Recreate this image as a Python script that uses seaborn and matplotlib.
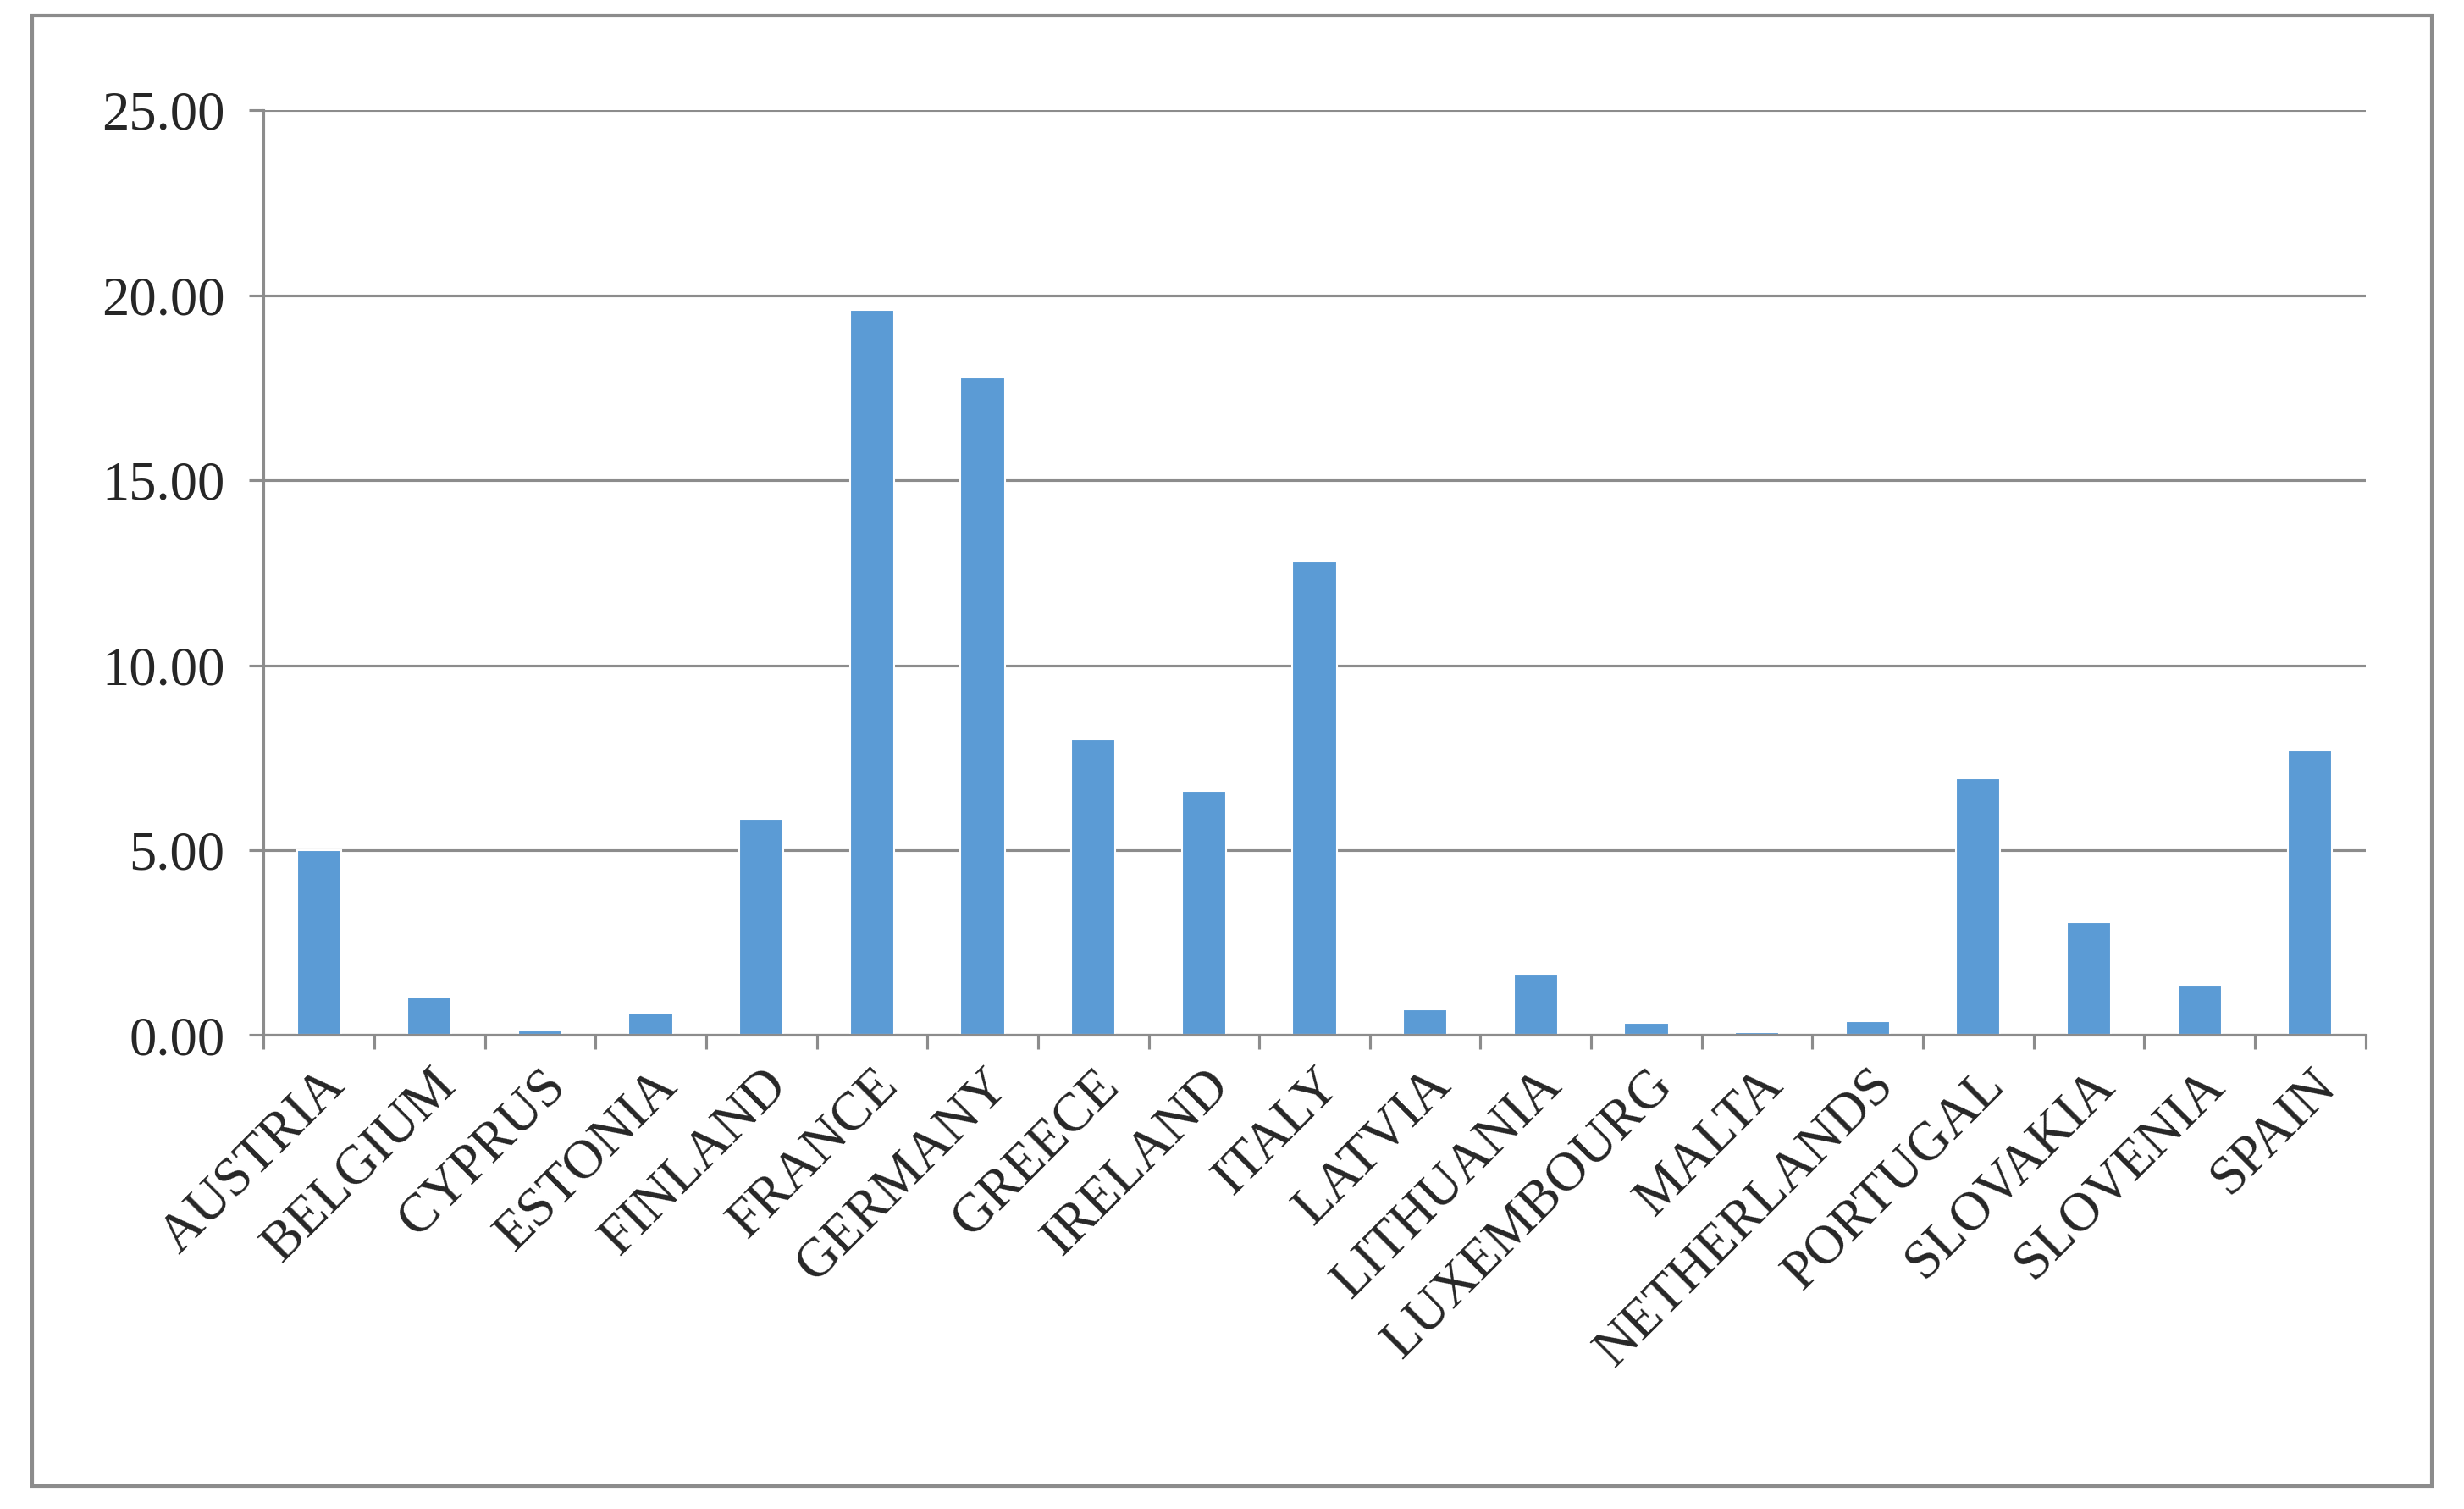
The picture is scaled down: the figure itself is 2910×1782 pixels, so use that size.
import matplotlib
matplotlib.use("Agg")
import matplotlib.pyplot as plt
import seaborn as sns
import numpy as np
import pandas as pd
from matplotlib.patches import Rectangle

countries = ["AUSTRIA", "BELGIUM", "CYPRUS", "ESTONIA", "FINLAND", "FRANCE", "GERMANY",
             "GREECE", "IRELAND", "ITALY", "LATVIA", "LITHUANIA", "LUXEMBOURG", "MALTA",
             "NETHERLANDS", "PORTUGAL", "SLOVAKIA", "SLOVENIA", "SPAIN"]
values = [5.0, 1.05, 0.12, 0.6, 5.85, 19.6, 17.8, 8.0, 6.6, 12.8, 0.7, 1.65, 0.33, 0.08,
          0.38, 6.95, 3.05, 1.35, 7.7]
y_ticks = [0, 5, 10, 15, 20, 25]

sns.set_theme(style="white")
plt.rcParams["font.family"] = ["Liberation Serif", "DejaVu Serif"]

fig = plt.figure(figsize=(19.4, 11.88), dpi=150)
ax = fig.add_axes([0.107, 0.314, 0.853, 0.613])
df = pd.DataFrame({"country": countries, "value": values})
sns.barplot(data=df, x="country", y="value", color="#5B9BD5", saturation=1, width=0.4, ax=ax)

ax.set_ylim(0, 25)
ax.set_xlim(-0.5, len(countries) - 0.5)
ax.set_yticks(y_ticks)
ax.set_yticklabels([f"{v:.2f}" for v in y_ticks], fontsize=31)
ax.yaxis.grid(True, color="#8c8c8c", linewidth=1.5)
ax.set_axisbelow(True)
ax.set_xlabel("")
ax.set_ylabel("")
ax.set_xticks(range(len(countries)))
ax.set_xticklabels(countries, rotation=45, ha="right", rotation_mode="anchor", fontsize=31)
ax.set_xticks(np.arange(-0.5, len(countries), 1), minor=True)
ax.tick_params(axis="x", which="major", length=0, pad=14)
ax.tick_params(axis="x", which="minor", length=8, width=1.5, color="#8c8c8c", bottom=True)
ax.tick_params(axis="y", length=8, width=1.5, color="#8c8c8c", left=True, pad=14)
for s in ["top", "right"]:
    ax.spines[s].set_visible(False)
for s in ["left", "bottom"]:
    ax.spines[s].set_color("#8c8c8c")
    ax.spines[s].set_linewidth(1.5)

fig.patches.append(Rectangle((0.013, 0.015), 0.974, 0.975, transform=fig.transFigure,
                             fill=False, edgecolor="#8c8c8c", linewidth=2))
fig.savefig("out.png", dpi=150)
